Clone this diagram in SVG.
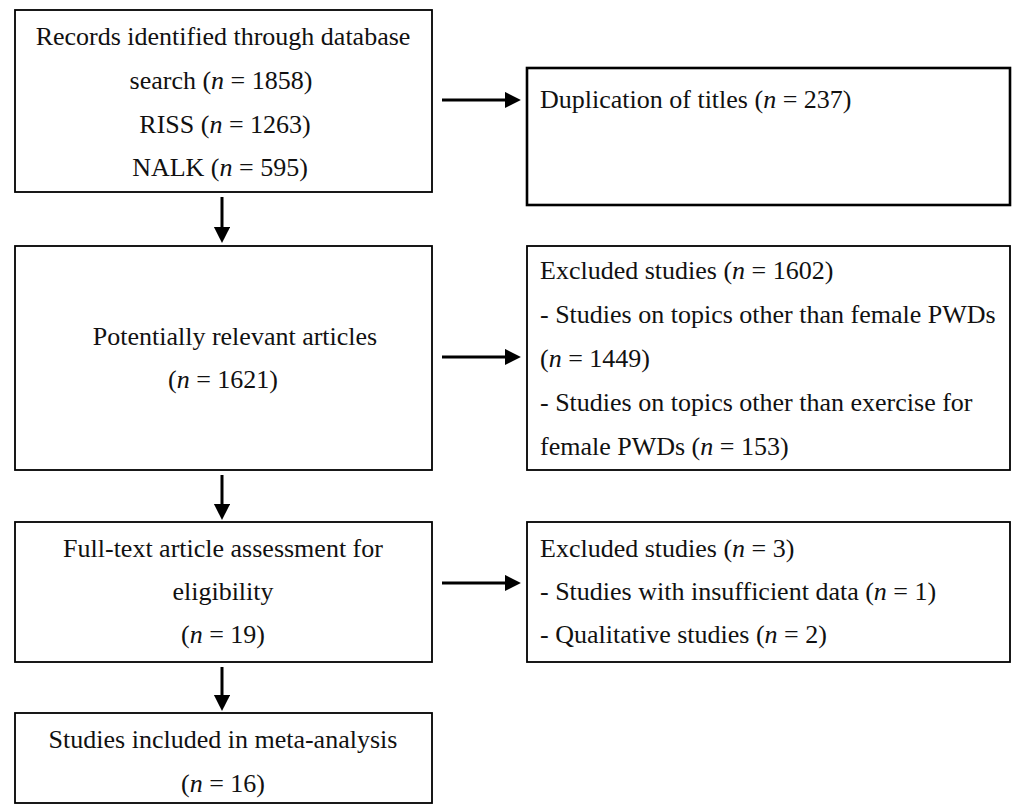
<svg xmlns="http://www.w3.org/2000/svg" width="1019" height="805" viewBox="0 0 1019 805">
<style>
.box{fill:#fff;stroke:#000;stroke-width:1.8}
.thick{stroke-width:2.6}
.t{font-family:"Liberation Serif","Times New Roman",serif;font-size:26px;fill:#111}
.c{text-anchor:middle}
.i{font-style:italic}
.ln{stroke:#000;stroke-width:3;fill:none}
</style>
<defs>
<marker id="ah" markerWidth="6" markerHeight="6" refX="0" refY="2.7" orient="auto" markerUnits="strokeWidth">
<path d="M0,0 L5.3,2.7 L0,5.4 Z" fill="#000"/>
</marker>
</defs>
<rect width="1019" height="805" fill="#fff"/>
<g id="connectors">
<line class="ln" x1="442" y1="100" x2="505" y2="100" marker-end="url(#ah)"/>
<line class="ln" x1="442" y1="357" x2="505" y2="357" marker-end="url(#ah)"/>
<line class="ln" x1="442" y1="583" x2="505" y2="583" marker-end="url(#ah)"/>
<line class="ln" x1="222" y1="197" x2="222" y2="227" marker-end="url(#ah)"/>
<line class="ln" x1="222" y1="475" x2="222" y2="504" marker-end="url(#ah)"/>
<line class="ln" x1="222" y1="667" x2="222" y2="695" marker-end="url(#ah)"/>
</g>
<g id="records">
<rect class="box" x="15" y="10" width="417" height="182"/>
<text class="t c" x="223" y="45">Records identified through database</text>
<text class="t c" x="221" y="89">search (<tspan class="i">n</tspan> = 1858)</text>
<text class="t c" x="225" y="133">RISS (<tspan class="i">n</tspan> = 1263)</text>
<text class="t c" x="220" y="176">NALK (<tspan class="i">n</tspan> = 595)</text>
</g>
<g id="duplication">
<rect class="box thick" x="527" y="68" width="483" height="137"/>
<text class="t" x="540" y="108">Duplication of titles (<tspan class="i">n</tspan> = 237)</text>
</g>
<g id="potential">
<rect class="box" x="15" y="246" width="417" height="224"/>
<text class="t c" x="235" y="345">Potentially relevant articles</text>
<text class="t c" x="223" y="388">(<tspan class="i">n</tspan> = 1621)</text>
</g>
<g id="excluded1">
<rect class="box" x="527" y="246" width="483" height="224"/>
<text class="t" x="540" y="279">Excluded studies (<tspan class="i">n</tspan> = 1602)</text>
<text class="t" x="540" y="323">- Studies on topics other than female PWDs</text>
<text class="t" x="540" y="367">(<tspan class="i">n</tspan> = 1449)</text>
<text class="t" x="540" y="411">- Studies on topics other than exercise for</text>
<text class="t" x="540" y="455">female PWDs (<tspan class="i">n</tspan> = 153)</text>
</g>
<g id="fulltext">
<rect class="box" x="15" y="522" width="417" height="140"/>
<text class="t c" x="223" y="557">Full-text article assessment for</text>
<text class="t c" x="223" y="600">eligibility</text>
<text class="t c" x="223" y="643">(<tspan class="i">n</tspan> = 19)</text>
</g>
<g id="excluded2">
<rect class="box" x="527" y="522" width="483" height="140"/>
<text class="t" x="540" y="557">Excluded studies (<tspan class="i">n</tspan> = 3)</text>
<text class="t" x="540" y="600">- Studies with insufficient data (<tspan class="i">n</tspan> = 1)</text>
<text class="t" x="540" y="643">- Qualitative studies (<tspan class="i">n</tspan> = 2)</text>
</g>
<g id="included">
<rect class="box" x="15" y="713" width="417" height="90"/>
<text class="t c" x="223" y="748">Studies included in meta-analysis</text>
<text class="t c" x="223" y="792">(<tspan class="i">n</tspan> = 16)</text>
</g>
</svg>
